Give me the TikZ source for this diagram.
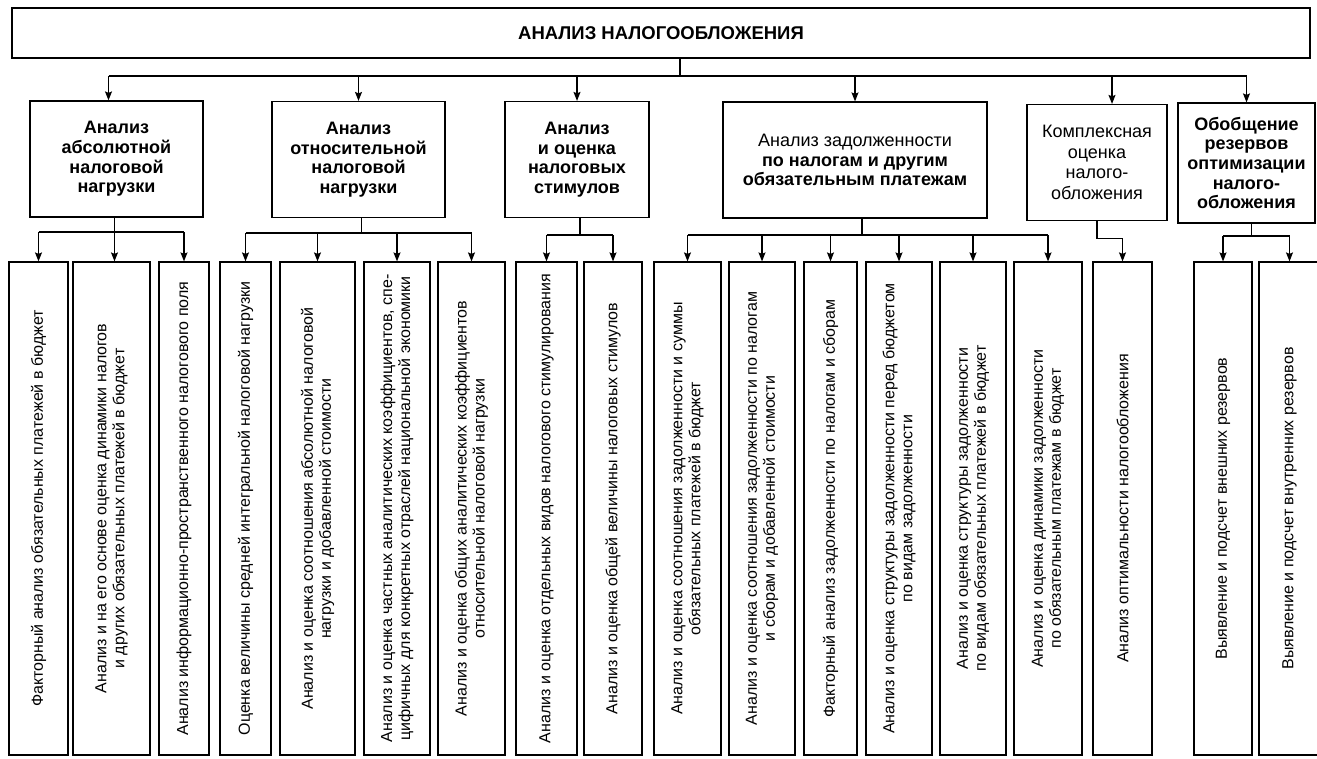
\documentclass[tikz,border=0pt]{standalone}
\usepackage{fontspec}
\setmainfont{Liberation Sans}
\usetikzlibrary{arrows.meta}
\tikzstyle{head} = [rectangle, minimum width=1298pt, minimum height=50pt, text centered, draw=black, line width=1.2pt, font=\fontsize{18.5}{21}\selectfont\bfseries]
\tikzstyle{group} = [rectangle, minimum height=116pt, align=center, draw=black, line width=1.2pt, font=\fontsize{18}{19.6}\selectfont]
\tikzstyle{leaf} = [rectangle, rotate=90, minimum width=493pt, align=center, draw=black, line width=1.2pt, font=\fontsize{16}{18}\selectfont]
\tikzstyle{arrow} = [line width=1.2pt,-{Stealth[length=9pt,width=7pt,inset=1.5pt]}]
\tikzstyle{line} = [line width=1.2pt]

\begin{document}
\begin{tikzpicture}[x=1pt, y=-1pt]
\useasboundingbox (0,0) rectangle (1317,758);

% Top
\node (tax) [head] at (661,33) {АНАЛИЗ НАЛОГООБЛОЖЕНИЯ};

% Second level
\node (absolute) [group, minimum width=173pt, font=\fontsize{18}{19.6}\selectfont\bfseries] at (116.5,159) {Анализ\\абсолютной\\налоговой\\нагрузки};
\node (relative) [group, minimum width=173pt, font=\fontsize{18}{19.6}\selectfont\bfseries] at (358.5,159.5) {Анализ\\относительной\\налоговой\\нагрузки};
\node (incentives) [group, minimum width=144pt, font=\fontsize{18}{19.6}\selectfont\bfseries] at (577,159.5) {Анализ\\и оценка\\налоговых\\стимулов};
\node (debt) [group, minimum width=264pt] at (855,160) {Анализ задолженности\\\textbf{по налогам и другим}\\\textbf{обязательным платежам}};
\node (complex) [group, minimum width=140pt, font=\fontsize{18}{20.6}\selectfont] at (1097,162.5) {Комплексная\\оценка\\налого-\\обложения};
\node (reserves) [group, minimum width=137pt, minimum height=120pt, font=\fontsize{18}{19.6}\selectfont\bfseries] at (1246.5,163) {Обобщение\\резервов\\оптимизации\\налого-\\обложения};

% Absolute burden
\node (abs-1) [leaf, minimum height=59pt] at (38.5,508.5) {Факторный анализ обязательных платежей в бюджет};
\node (abs-2) [leaf, minimum height=77pt] at (111.5,508.5) {Анализ и на его основе оценка динамики налогов\\и других обязательных платежей в бюджет};
\node (abs-3) [leaf, minimum height=50pt] at (184,508.5) {Анализ информационно-пространственного налогового поля};

% Relative burden
\node (rel-1) [leaf, minimum height=51pt] at (245.5,508.5) {Оценка величины средней интегральной налоговой нагрузки};
\node (rel-2) [leaf, minimum height=75pt] at (317.5,508.5) {Анализ и оценка соотношения абсолютной налоговой\\нагрузки и добавленной стоимости};
\node (rel-3) [leaf, minimum height=66pt] at (397,508.5) {Анализ и оценка частных аналитических коэффициентов, спе-\\цифичных для конкретных отраслей национальной экономики};
\node (rel-4) [leaf, minimum height=67pt] at (471.5,508.5) {Анализ и оценка общих аналитических коэффициентов\\относительной налоговой нагрузки};

% Incentives
\node (inc-1) [leaf, minimum height=61pt] at (546.5,508.5) {Анализ и оценка отдельных видов налогового стимулирования};
\node (inc-2) [leaf, minimum height=58pt] at (613,508.5) {Анализ и оценка общей величины налоговых стимулов};

% Debt
\node (debt-1) [leaf, minimum height=67pt] at (687.5,508.5) {Анализ и оценка соотношения задолженности и суммы\\обязательных платежей в бюджет};
\node (debt-2) [leaf, minimum height=66pt] at (762,508.5) {Анализ и оценка соотношения задолженности по налогам\\и сборам и добавленной стоимости};
\node (debt-3) [leaf, minimum height=53pt] at (830.5,508.5) {Факторный анализ задолженности по налогам и сборам};
\node (debt-4) [leaf, minimum height=66pt] at (899,508.5) {Анализ и оценка структуры задолженности перед бюджетом\\по видам задолженности};
\node (debt-5) [leaf, minimum height=66pt] at (973,508.5) {Анализ и оценка структуры задолженности\\по видам обязательных платежей в бюджет};
\node (debt-6) [leaf, minimum height=68pt] at (1048,508.5) {Анализ и оценка динамики задолженности\\по обязательным платежам в бюджет};

% Complex assessment
\node (compl-1) [leaf, minimum height=59pt] at (1122.5,508.5) {Анализ оптимальности налогообложения};

% Reserves
\node (res-1) [leaf, minimum height=58pt] at (1223,508.5) {Выявление и подсчет внешних резервов};
\node (res-2) [leaf, minimum height=61pt] at (1289.5,508.5) {Выявление и подсчет внутренних резервов};

% Buses
\coordinate (topbus) at (680,76);
\coordinate (bus-abs) at (0,232);
\coordinate (bus-rel) at (0,233);
\coordinate (bus-inc) at (0,235);
\coordinate (bus-debt) at (0,235);
\coordinate (bus-res) at (0,236);

% Arrows
\draw [line] (topbus |- tax.south) -- (topbus);
\draw [line] ([xshift=-8pt]absolute.north |- topbus) -- (reserves.north |- topbus);
\draw [arrow] ([xshift=-8pt]absolute.north |- topbus) -- ([xshift=-8pt]absolute.north);
\draw [arrow] (relative.north |- topbus) -- (relative.north);
\draw [arrow] (incentives.north |- topbus) -- (incentives.north);
\draw [arrow] (debt.north |- topbus) -- (debt.north);
\draw [arrow] ([xshift=15pt]complex.north |- topbus) -- ([xshift=15pt]complex.north);
\draw [arrow] (reserves.north |- topbus) -- (reserves.north);

\draw [line] (abs-1.east |- bus-abs) -- (abs-3.east |- bus-abs);
\draw [arrow] ([xshift=-2pt]absolute.south) -- ([xshift=-2pt]absolute.south |- abs-2.east);
\draw [arrow] (abs-1.east |- bus-abs) -- (abs-1.east);
\draw [arrow] (abs-3.east |- bus-abs) -- (abs-3.east);

\draw [line] ([xshift=3pt]relative.south) -- ([xshift=3pt]relative.south |- bus-rel);
\draw [line] (rel-1.east |- bus-rel) -- (rel-4.east |- bus-rel);
\draw [arrow] (rel-1.east |- bus-rel) -- (rel-1.east);
\draw [arrow] (rel-2.east |- bus-rel) -- (rel-2.east);
\draw [arrow] (rel-3.east |- bus-rel) -- (rel-3.east);
\draw [arrow] (rel-4.east |- bus-rel) -- (rel-4.east);

\draw [line] ([xshift=3pt]incentives.south) -- ([xshift=3pt]incentives.south |- bus-inc);
\draw [line] (inc-1.east |- bus-inc) -- (inc-2.east |- bus-inc);
\draw [arrow] (inc-1.east |- bus-inc) -- (inc-1.east);
\draw [arrow] (inc-2.east |- bus-inc) -- (inc-2.east);

\draw [line] ([xshift=7pt]debt.south) -- ([xshift=7pt]debt.south |- bus-debt);
\draw [line] (debt-1.east |- bus-debt) -- (debt-6.east |- bus-debt);
\draw [arrow] (debt-1.east |- bus-debt) -- (debt-1.east);
\draw [arrow] (debt-2.east |- bus-debt) -- (debt-2.east);
\draw [arrow] (debt-3.east |- bus-debt) -- (debt-3.east);
\draw [arrow] (debt-4.east |- bus-debt) -- (debt-4.east);
\draw [arrow] (debt-5.east |- bus-debt) -- (debt-5.east);
\draw [arrow] (debt-6.east |- bus-debt) -- (debt-6.east);

\draw [arrow] (complex.south) -- ++(0,17) -| (compl-1.east);

\draw [line] ([xshift=5pt]reserves.south) -- ([xshift=5pt]reserves.south |- bus-res);
\draw [line] (res-1.east |- bus-res) -- (res-2.east |- bus-res);
\draw [arrow] (res-1.east |- bus-res) -- (res-1.east);
\draw [arrow] (res-2.east |- bus-res) -- (res-2.east);

\end{tikzpicture}
\end{document}
